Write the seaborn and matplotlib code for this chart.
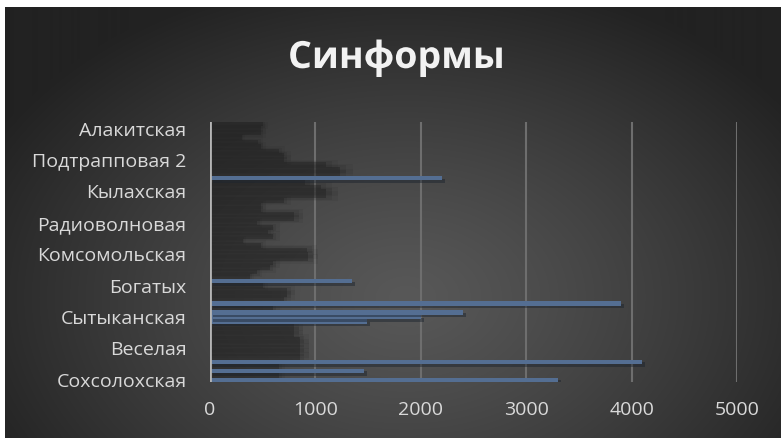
import numpy as np
import pandas as pd
import matplotlib
matplotlib.use("Agg")
import matplotlib.pyplot as plt
import matplotlib.patheffects as pe
import seaborn as sns

# Visible category labels (every 7th deposit, from bottom to top)
tick_labels = ["Сохсолохская", "Веселая", "Сытыканская", "Богатых", "Комсомольская",
               "Радиоволновая", "Кылахская", "Подтрапповая 2", "Алакитская"]
tick_step = 7
n_deposits = 58

# Highlighted series (blue bars), index -> value
blue_idx = [0, 2, 4, 13, 14, 15, 17, 22, 45]
blue_val = [3300, 1460, 4100, 1490, 2000, 2400, 3900, 1350, 2200]

# Dark series (one value per deposit, bottom to top)
dark_val = [0, 650, 0, 650, 0, 850, 850, 850, 850, 850,
            800, 800, 800, 0, 0, 0, 600, 0, 700, 730,
            730, 500, 0, 380, 450, 570, 600, 930, 930, 920,
            480, 310, 600, 550, 600, 450, 800, 800, 480, 480,
            700, 1100, 1100, 1050, 900, 0, 1230, 1230, 1100, 700,
            700, 650, 480, 460, 300, 480, 480, 500]

title = "Синформы"

W, H = 781, 438
fig = plt.figure(figsize=(W / 100, H / 100), dpi=100, facecolor="white")

# radial gradient background panel
bg = fig.add_axes([5 / W, 0, 775 / W, 431 / H])
bg.set_axis_off()
yy, xx = np.mgrid[0:431, 0:775]
r = np.sqrt(((xx - 400) / 470.0) ** 2 + ((yy - 290) / 330.0) ** 2)
shade = 0x58 - (0x58 - 0x22) * np.clip(r, 0, 1) ** 1.2
img = np.dstack([shade, shade, shade]) / 255.0
bg.imshow(img, aspect="auto", extent=[0, 1, 0, 1], origin="upper")
bg.set_xlim(0, 1)
bg.set_ylim(0, 1)

ax = fig.add_axes([210 / W, 1 - 382 / H, 527 / W, 260 / H])
ax.patch.set_alpha(0)

dark_df = pd.DataFrame({"pos": np.arange(n_deposits), "value": dark_val})
blue_df = pd.DataFrame({"pos": blue_idx, "value": blue_val})

# blurred dark bars: several soft layers
for grow, wd, a in [(1.10, 2.2, 0.07), (1.05, 1.6, 0.12), (1.0, 1.0, 0.35)]:
    d = dark_df.assign(value=dark_df["value"] * grow)
    sns.barplot(data=d, x="value", y="pos", orient="y", native_scale=True,
                color="#1c1c1c", alpha=a, width=wd, ax=ax)
n_dark = len(ax.patches)
sns.barplot(data=blue_df, x="value", y="pos", orient="y", native_scale=True,
            color="#4a6d9c", width=0.95, ax=ax)
for i, p in enumerate(ax.patches):
    p.set_edgecolor("none")
    if i >= n_dark:
        p.set_path_effects([pe.SimplePatchShadow(offset=(2, -2), alpha=0.45), pe.Normal()])

ax.set_xlim(0, 5000)
ax.set_ylim(-0.5, n_deposits - 0.5)
ax.set_xticks([0, 1000, 2000, 3000, 4000, 5000])
ax.set_yticks(np.arange(len(tick_labels)) * tick_step)
ax.set_yticklabels(tick_labels)
ax.set_xlabel("")
ax.set_ylabel("")
for s in ax.spines.values():
    s.set_visible(False)
ax.grid(False)
for x in [1000, 2000, 3000, 4000, 5000]:
    ax.axvline(x, color="#6e6e6e", lw=1.5, zorder=0)
ax.axvline(0, color="#b5b5b5", lw=2, zorder=5)
ax.tick_params(length=0, labelsize=14, labelcolor="#d9d9d9")
for t in ax.get_xticklabels() + ax.get_yticklabels():
    t.set_family("Open Sans")
ax.tick_params(axis="y", pad=17)
ax.tick_params(axis="x", pad=14)

fig.text(396 / W, 1 - 58 / H, title, ha="center", va="center", fontsize=27,
         fontweight="bold", color="#f2f2f2", family="Open Sans",
         path_effects=[pe.SimpleLineShadow(offset=(1.5, -1.5), alpha=0.6, shadow_color="black"),
                       pe.Normal()])

fig.savefig("out.png", dpi=100, facecolor="white")
